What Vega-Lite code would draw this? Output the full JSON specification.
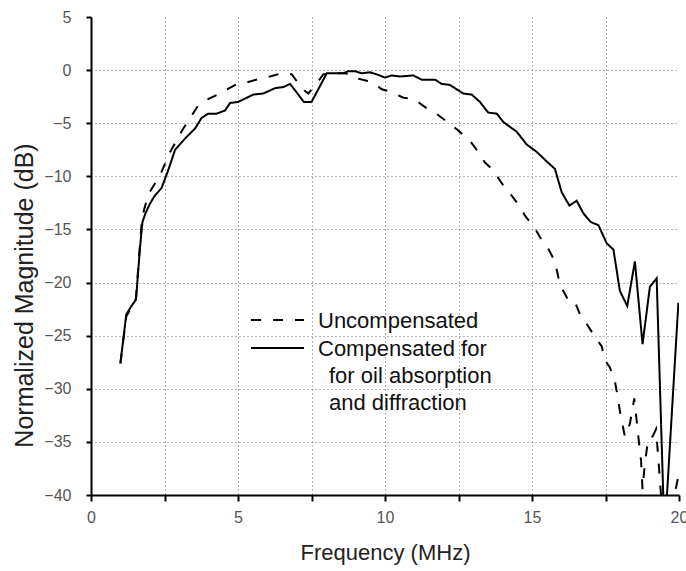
{
  "$schema": "https://vega.github.io/schema/vega-lite/v6.json",
  "width": 588,
  "height": 478,
  "autosize": "none",
  "padding": {"left": 91, "top": 17, "right": 7, "bottom": 76},
  "background": "white",
  "config": {
    "view": {"stroke": null},
    "font": "Liberation Sans",
    "axis": {
      "domainColor": "black",
      "domainWidth": 2,
      "tickColor": "black",
      "tickWidth": 2,
      "labelFont": "Liberation Sans",
      "labelFontSize": 16,
      "labelColor": "#555",
      "titleFont": "Liberation Sans",
      "titleFontWeight": "normal",
      "titleColor": "#222",
      "gridColor": "#666",
      "gridDash": [1, 3],
      "gridWidth": 1
    }
  },
  "data": {
    "values": [
      {"f": 1.0, "mag": -27.6, "series": "Compensated"},
      {"f": 1.2, "mag": -23.0, "series": "Compensated"},
      {"f": 1.38, "mag": -22.2, "series": "Compensated"},
      {"f": 1.53, "mag": -21.6, "series": "Compensated"},
      {"f": 1.67, "mag": -16.6, "series": "Compensated"},
      {"f": 1.75, "mag": -14.3, "series": "Compensated"},
      {"f": 1.85, "mag": -13.5, "series": "Compensated"},
      {"f": 2.0, "mag": -12.6, "series": "Compensated"},
      {"f": 2.15, "mag": -11.9, "series": "Compensated"},
      {"f": 2.4, "mag": -11.1, "series": "Compensated"},
      {"f": 2.63, "mag": -9.4, "series": "Compensated"},
      {"f": 2.86, "mag": -7.5, "series": "Compensated"},
      {"f": 3.05, "mag": -6.9, "series": "Compensated"},
      {"f": 3.25, "mag": -6.3, "series": "Compensated"},
      {"f": 3.54, "mag": -5.5, "series": "Compensated"},
      {"f": 3.76, "mag": -4.5, "series": "Compensated"},
      {"f": 3.99, "mag": -4.1, "series": "Compensated"},
      {"f": 4.27, "mag": -4.1, "series": "Compensated"},
      {"f": 4.56, "mag": -3.8, "series": "Compensated"},
      {"f": 4.73, "mag": -3.1, "series": "Compensated"},
      {"f": 5.0, "mag": -3.0, "series": "Compensated"},
      {"f": 5.3, "mag": -2.6, "series": "Compensated"},
      {"f": 5.52, "mag": -2.3, "series": "Compensated"},
      {"f": 5.86, "mag": -2.2, "series": "Compensated"},
      {"f": 6.26, "mag": -1.7, "series": "Compensated"},
      {"f": 6.54, "mag": -1.6, "series": "Compensated"},
      {"f": 6.77, "mag": -1.3, "series": "Compensated"},
      {"f": 6.94, "mag": -1.9, "series": "Compensated"},
      {"f": 7.24, "mag": -3.0, "series": "Compensated"},
      {"f": 7.5, "mag": -3.0, "series": "Compensated"},
      {"f": 8.02, "mag": -0.3, "series": "Compensated"},
      {"f": 8.58, "mag": -0.3, "series": "Compensated"},
      {"f": 8.75, "mag": -0.1, "series": "Compensated"},
      {"f": 8.98, "mag": -0.1, "series": "Compensated"},
      {"f": 9.2, "mag": -0.3, "series": "Compensated"},
      {"f": 9.49, "mag": -0.2, "series": "Compensated"},
      {"f": 9.72, "mag": -0.4, "series": "Compensated"},
      {"f": 10.0, "mag": -0.7, "series": "Compensated"},
      {"f": 10.23, "mag": -0.5, "series": "Compensated"},
      {"f": 10.51, "mag": -0.6, "series": "Compensated"},
      {"f": 10.96, "mag": -0.5, "series": "Compensated"},
      {"f": 11.25, "mag": -0.9, "series": "Compensated"},
      {"f": 11.7, "mag": -0.9, "series": "Compensated"},
      {"f": 11.93, "mag": -1.3, "series": "Compensated"},
      {"f": 12.21, "mag": -1.4, "series": "Compensated"},
      {"f": 12.66, "mag": -2.2, "series": "Compensated"},
      {"f": 12.95, "mag": -2.3, "series": "Compensated"},
      {"f": 13.23, "mag": -3.0, "series": "Compensated"},
      {"f": 13.51, "mag": -4.0, "series": "Compensated"},
      {"f": 13.8, "mag": -4.1, "series": "Compensated"},
      {"f": 14.03, "mag": -4.9, "series": "Compensated"},
      {"f": 14.48, "mag": -5.8, "series": "Compensated"},
      {"f": 14.82, "mag": -7.0, "series": "Compensated"},
      {"f": 15.16, "mag": -7.7, "series": "Compensated"},
      {"f": 15.5, "mag": -8.6, "series": "Compensated"},
      {"f": 15.78, "mag": -9.3, "series": "Compensated"},
      {"f": 16.01, "mag": -11.5, "series": "Compensated"},
      {"f": 16.27, "mag": -12.75, "series": "Compensated"},
      {"f": 16.52, "mag": -12.3, "series": "Compensated"},
      {"f": 16.75, "mag": -13.5, "series": "Compensated"},
      {"f": 17.0, "mag": -14.3, "series": "Compensated"},
      {"f": 17.26, "mag": -14.6, "series": "Compensated"},
      {"f": 17.54, "mag": -16.3, "series": "Compensated"},
      {"f": 17.77, "mag": -16.9, "series": "Compensated"},
      {"f": 17.99, "mag": -20.8, "series": "Compensated"},
      {"f": 18.24, "mag": -22.2, "series": "Compensated"},
      {"f": 18.5, "mag": -18.0, "series": "Compensated"},
      {"f": 18.76, "mag": -25.8, "series": "Compensated"},
      {"f": 19.01, "mag": -20.4, "series": "Compensated"},
      {"f": 19.24, "mag": -19.6, "series": "Compensated"},
      {"f": 19.47, "mag": -40.5, "series": "Compensated"},
      {"f": 19.58, "mag": -40.5, "series": "Compensated"},
      {"f": 19.98, "mag": -21.9, "series": "Compensated"},

      {"f": 1.0, "mag": -27.6, "series": "Uncompensated"},
      {"f": 1.2, "mag": -23.2, "series": "Uncompensated"},
      {"f": 1.38, "mag": -22.3, "series": "Uncompensated"},
      {"f": 1.53, "mag": -21.5, "series": "Uncompensated"},
      {"f": 1.65, "mag": -17.0, "series": "Uncompensated"},
      {"f": 1.72, "mag": -14.5, "series": "Uncompensated"},
      {"f": 1.8, "mag": -13.2, "series": "Uncompensated"},
      {"f": 1.95, "mag": -11.7, "series": "Uncompensated"},
      {"f": 2.35, "mag": -9.9, "series": "Uncompensated"},
      {"f": 2.69, "mag": -7.7, "series": "Uncompensated"},
      {"f": 3.14, "mag": -5.5, "series": "Uncompensated"},
      {"f": 3.65, "mag": -3.3, "series": "Uncompensated"},
      {"f": 4.0, "mag": -2.7, "series": "Uncompensated"},
      {"f": 4.27, "mag": -2.35, "series": "Uncompensated"},
      {"f": 4.5, "mag": -2.0, "series": "Uncompensated"},
      {"f": 5.01, "mag": -1.25, "series": "Uncompensated"},
      {"f": 5.24, "mag": -1.2, "series": "Uncompensated"},
      {"f": 5.75, "mag": -0.8, "series": "Uncompensated"},
      {"f": 6.09, "mag": -0.6, "series": "Uncompensated"},
      {"f": 6.54, "mag": -0.25, "series": "Uncompensated"},
      {"f": 6.83, "mag": -0.4, "series": "Uncompensated"},
      {"f": 7.17, "mag": -1.7, "series": "Uncompensated"},
      {"f": 7.39, "mag": -2.2, "series": "Uncompensated"},
      {"f": 7.68, "mag": -1.25, "series": "Uncompensated"},
      {"f": 7.9, "mag": -0.4, "series": "Uncompensated"},
      {"f": 8.2, "mag": -0.3, "series": "Uncompensated"},
      {"f": 8.6, "mag": -0.3, "series": "Uncompensated"},
      {"f": 8.9, "mag": -0.4, "series": "Uncompensated"},
      {"f": 9.09, "mag": -0.8, "series": "Uncompensated"},
      {"f": 9.38, "mag": -1.0, "series": "Uncompensated"},
      {"f": 9.6, "mag": -1.2, "series": "Uncompensated"},
      {"f": 9.89, "mag": -1.8, "series": "Uncompensated"},
      {"f": 10.17, "mag": -2.0, "series": "Uncompensated"},
      {"f": 10.63, "mag": -2.6, "series": "Uncompensated"},
      {"f": 10.97, "mag": -2.7, "series": "Uncompensated"},
      {"f": 11.42, "mag": -3.6, "series": "Uncompensated"},
      {"f": 11.7, "mag": -4.0, "series": "Uncompensated"},
      {"f": 12.15, "mag": -4.95, "series": "Uncompensated"},
      {"f": 12.5, "mag": -5.7, "series": "Uncompensated"},
      {"f": 12.9, "mag": -6.7, "series": "Uncompensated"},
      {"f": 13.12, "mag": -7.5, "series": "Uncompensated"},
      {"f": 13.4, "mag": -8.7, "series": "Uncompensated"},
      {"f": 13.68, "mag": -9.4, "series": "Uncompensated"},
      {"f": 13.97, "mag": -10.65, "series": "Uncompensated"},
      {"f": 14.25, "mag": -11.6, "series": "Uncompensated"},
      {"f": 14.59, "mag": -12.85, "series": "Uncompensated"},
      {"f": 14.76, "mag": -13.7, "series": "Uncompensated"},
      {"f": 15.1, "mag": -14.9, "series": "Uncompensated"},
      {"f": 15.33, "mag": -16.0, "series": "Uncompensated"},
      {"f": 15.55, "mag": -16.8, "series": "Uncompensated"},
      {"f": 15.78, "mag": -18.0, "series": "Uncompensated"},
      {"f": 15.95, "mag": -20.2, "series": "Uncompensated"},
      {"f": 16.24, "mag": -21.7, "series": "Uncompensated"},
      {"f": 16.46, "mag": -21.8, "series": "Uncompensated"},
      {"f": 16.63, "mag": -23.0, "series": "Uncompensated"},
      {"f": 16.84, "mag": -23.8, "series": "Uncompensated"},
      {"f": 17.14, "mag": -25.1, "series": "Uncompensated"},
      {"f": 17.37, "mag": -26.0, "series": "Uncompensated"},
      {"f": 17.48, "mag": -27.3, "series": "Uncompensated"},
      {"f": 17.65, "mag": -28.0, "series": "Uncompensated"},
      {"f": 17.82, "mag": -29.3, "series": "Uncompensated"},
      {"f": 17.9, "mag": -30.5, "series": "Uncompensated"},
      {"f": 18.0, "mag": -32.3, "series": "Uncompensated"},
      {"f": 18.16, "mag": -34.5, "series": "Uncompensated"},
      {"f": 18.33, "mag": -33.3, "series": "Uncompensated"},
      {"f": 18.48, "mag": -30.9, "series": "Uncompensated"},
      {"f": 18.56, "mag": -33.0, "series": "Uncompensated"},
      {"f": 18.64, "mag": -35.1, "series": "Uncompensated"},
      {"f": 18.71, "mag": -36.8, "series": "Uncompensated"},
      {"f": 18.76, "mag": -39.5, "series": "Uncompensated"},
      {"f": 18.84, "mag": -37.0, "series": "Uncompensated"},
      {"f": 18.96, "mag": -34.6, "series": "Uncompensated"},
      {"f": 19.1, "mag": -34.5, "series": "Uncompensated"},
      {"f": 19.22, "mag": -33.8, "series": "Uncompensated"},
      {"f": 19.3, "mag": -36.7, "series": "Uncompensated"},
      {"f": 19.36, "mag": -39.0, "series": "Uncompensated"},
      {"f": 19.45, "mag": -42.0, "series": "Uncompensated"},
      {"f": 19.7, "mag": -42.0, "series": "Uncompensated"},
      {"f": 19.98, "mag": -38.2, "series": "Uncompensated"}
    ]
  },
  "mark": {"type": "line", "color": "black", "strokeWidth": 2, "clip": true},
  "encoding": {
    "x": {
      "field": "f",
      "type": "quantitative",
      "scale": {"domain": [0, 20], "nice": false, "zero": false},
      "axis": {
        "title": "Frequency (MHz)",
        "titleFontSize": 22,
        "titleY": 57,
        "titleBaseline": "middle",
        "values": [0, 2.5, 5, 7.5, 10, 12.5, 15, 17.5, 20],
        "labelExpr": "datum.value % 5 === 0 ? datum.label : ''",
        "labelFlush": false,
        "labelOverlap": false,
        "tickSize": 6,
        "labelPadding": 8,
        "grid": true,
        "gridOpacity": {"condition": {"test": "datum.value == 0 || datum.value == 20", "value": 0}, "value": 1}
      }
    },
    "y": {
      "field": "mag",
      "type": "quantitative",
      "scale": {"domain": [-40, 5], "nice": false, "zero": false},
      "axis": {
        "title": "Normalized Magnitude (dB)",
        "titleFontSize": 25,
        "titleAngle": -90,
        "titleX": -67,
        "titleY": 278,
        "titleAlign": "center",
        "titleBaseline": "middle",
        "values": [-40, -35, -30, -25, -20, -15, -10, -5, 0, 5],
        "labelFlush": false,
        "labelOverlap": false,
        "tickSize": 5,
        "labelPadding": 15,
        "grid": true,
        "gridOpacity": {"condition": {"test": "datum.value == 5 || datum.value == -40", "value": 0}, "value": 1}
      }
    },
    "strokeDash": {
      "field": "series",
      "type": "nominal",
      "scale": {"domain": ["Uncompensated", "Compensated"], "range": [[10, 12], [1, 0]]},
      "legend": {
        "title": null,
        "orient": "none",
        "legendX": 159,
        "legendY": 289,
        "padding": 0,
        "symbolType": "stroke",
        "symbolSize": 2809,
        "symbolStrokeWidth": 2,
        "symbolStrokeColor": "black",
        "labelFont": "Liberation Sans",
        "labelFontSize": 22,
        "labelColor": "#111",
        "labelOffset": 13,
        "labelLimit": 400,
        "labelBaseline": "alphabetic",
        "clipHeight": 28,
        "rowPadding": 0,
        "labelExpr": "datum.label == 'Compensated' ? ['Compensated for', '\u200B\u2002for oil absorption', '\u200B\u2002and diffraction'] : datum.label",
        "encode": {"labels": {"update": {"lineHeight": {"value": 27}, "dy": {"value": 8}}}}
      }
    }
  }
}
